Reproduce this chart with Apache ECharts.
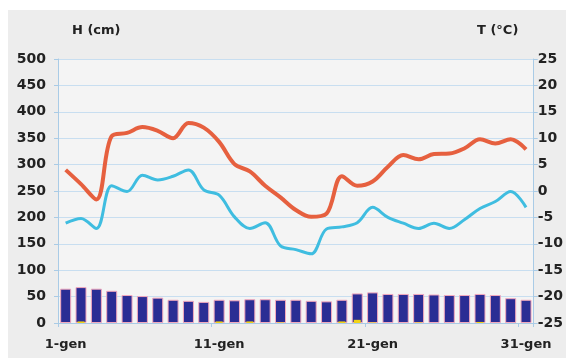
<!DOCTYPE html>
<html><head><meta charset="utf-8">
<script src="https://cdn.jsdelivr.net/npm/echarts@6/dist/echarts.min.js"></script>
<style>html,body{margin:0;padding:0;background:#fff}#c{width:566px;height:358px}</style>
</head><body><div id="c"></div>
<script>
const days = [];
for (let d = 1; d <= 31; d++) days.push(d + '-gen');
const snowHeight = [65, 68, 65, 61, 53, 51, 48, 44, 42, 40, 44, 43, 45, 45, 44, 44, 42, 41, 44, 56, 58, 55, 55, 55, 54, 53, 53, 55, 53, 47, 44];
const freshSnow = [0, 3, 0, 0, 0, 0, 0, 0, 0, 0, 3, 0, 3, 0, 1, 0, 0, 0, 3, 6, 1, 0, 0, 1, 0, 0, 0, 2, 0, 0, 0];
const tMax = [4.0, 1.3, -1.6, 10.4, 11.0, 12.1, 11.4, 10.0, 12.9, 12.0, 9.3, 5.1, 3.7, 1.0, -1.2, -3.6, -4.9, -4.3, 2.8, 1.0, 1.8, 4.6, 6.8, 6.0, 7.0, 7.1, 8.1, 9.8, 9.0, 9.8, 7.9];
const tMin = [-6.1, -5.2, -7.1, 1.0, -0.1, 3.0, 2.1, 2.8, 4.0, 0.2, -0.8, -4.9, -7.1, -6.0, -10.4, -11.1, -11.9, -7.2, -6.8, -6.0, -3.1, -5.0, -6.1, -7.1, -6.1, -7.1, -5.4, -3.3, -2.0, -0.1, -3.1];
const leftName = 'H (cm)';
const rightName = 'T (°C)';

const font = 'DejaVu Sans';
const txt = {color: '#222', fontFamily: font, fontWeight: 'bold', fontSize: 13};
const ytxt = {color: '#222', fontFamily: font, fontWeight: 'bold', fontSize: 14};
const axisBlue = '#a9cbe6';

const chart = echarts.init(document.getElementById('c'), null, {renderer: 'canvas'});
chart.setOption({
  backgroundColor: '#ffffff',
  animation: false,
  graphic: [
    {type: 'rect', z: -10, shape: {x: 8, y: 10, width: 560, height: 350}, style: {fill: '#ededed'}},
    {type: 'text', left: 72, top: 24, style: {text: leftName, fill: '#222', font: 'bold 13px "DejaVu Sans"'}},
    {type: 'text', left: 477, top: 24, style: {text: rightName, fill: '#222', font: 'bold 13px "DejaVu Sans"'}}
  ],
  grid: {left: 58, right: 30, top: 59, bottom: 35, show: true, backgroundColor: '#f4f4f4', borderWidth: 0},
  xAxis: [{
    type: 'category', data: days, boundaryGap: true,
    axisLine: {lineStyle: {color: axisBlue, width: 1}},
    axisTick: {show: true, length: 4, lineStyle: {color: axisBlue}},
    axisLabel: Object.assign({interval: 9, margin: 15}, txt),
    splitLine: {show: false}
  }, {
    type: 'category', data: days, show: false, position: 'bottom'
  }],
  yAxis: [{
    type: 'value', min: 0, max: 500, interval: 50, position: 'left',
    axisLine: {show: true, lineStyle: {color: axisBlue}},
    axisTick: {show: true, length: 4, lineStyle: {color: axisBlue}},
    axisLabel: Object.assign({margin: 12}, ytxt),
    splitLine: {show: true, lineStyle: {color: '#c8def0', width: 1}}
  }, {
    type: 'value', min: -25, max: 25, interval: 5, position: 'right',
    axisLine: {show: true, lineStyle: {color: axisBlue}},
    axisTick: {show: true, length: 4, lineStyle: {color: axisBlue}},
    axisLabel: Object.assign({margin: 4}, ytxt),
    splitLine: {show: false}
  }],
  series: [{
    name: 'H', type: 'bar', data: snowHeight, xAxisIndex: 0, yAxisIndex: 0, barWidth: 11,
    itemStyle: {color: '#2a2d94', borderColor: '#f3a9bd', borderWidth: 1}, z: 2
  }, {
    name: 'HN', type: 'bar', data: freshSnow, xAxisIndex: 1, yAxisIndex: 0, barWidth: 7,
    itemStyle: {color: '#f2d417'}, z: 3
  }, {
    name: 'Tmax', type: 'line', data: tMax, yAxisIndex: 1, smooth: 0.35, symbol: 'none',
    lineStyle: {color: '#e6603f', width: 4}, z: 4
  }, {
    name: 'Tmin', type: 'line', data: tMin, yAxisIndex: 1, smooth: 0.35, symbol: 'none',
    lineStyle: {color: '#3fbde0', width: 3}, z: 4
  }]
});
</script></body></html>
